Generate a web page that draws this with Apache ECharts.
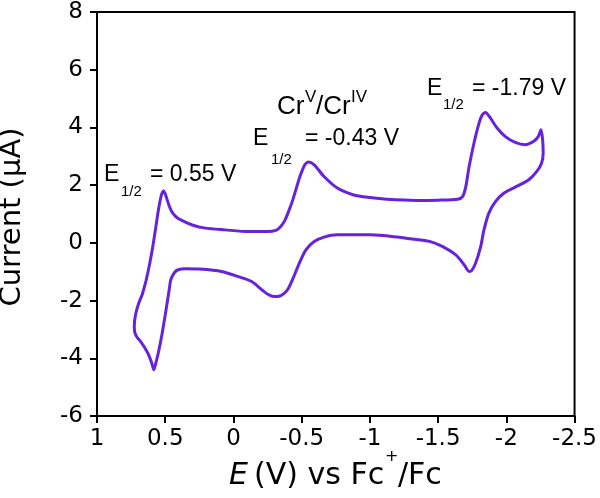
<!DOCTYPE html>
<html><head><meta charset="utf-8">
<script src="https://cdn.jsdelivr.net/npm/echarts@6/dist/echarts.min.js"></script>
<style>html,body{margin:0;padding:0;background:#fff}#c{width:600px;height:498px}</style>
</head><body><div id="c"></div>
<script>
// Cyclic voltammogram: potential (V vs Fc+/Fc) and current (µA), traced in sweep order
const potentialV = [
  0.640, 0.615, 0.592, 0.572, 0.553, 0.538, 0.525, 0.512, 0.500, 0.485,
  0.466, 0.445, 0.415, 0.375, 0.302, 0.205, 0.060, -0.109, -0.250, -0.315, -0.345, -0.375,
  -0.405, -0.435, -0.460, -0.483, -0.520, -0.548, -0.592, -0.664, -0.761, -0.882,
  -1.000, -1.123, -1.340, -1.500, -1.643, -1.679, -1.703, -1.727, -1.763, -1.800,
  -1.824, -1.848, -1.884, -1.932, -1.993, -2.065, -2.138, -2.198, -2.234, -2.254,
  -2.266, -2.270, -2.258, -2.222, -2.162, -2.065, -1.981, -1.920, -1.872, -1.836,
  -1.812, -1.775, -1.746, -1.727, -1.691, -1.630, -1.534, -1.437, -1.340, -1.000,
  -0.760, -0.664, -0.592, -0.531, -0.483, -0.435, -0.400, -0.370, -0.340, -0.302,
  -0.260, -0.225, -0.133, -0.036, 0.087, 0.250, 0.350, 0.410, 0.435, 0.459,
  0.471, 0.480, 0.500, 0.525, 0.550, 0.568, 0.583, 0.600, 0.625, 0.652,
  0.680, 0.705, 0.722, 0.727, 0.718, 0.695, 0.668, 0.640
];
const currentUA = [
  -1.30, -0.75, -0.15, 0.45, 1.05, 1.45, 1.70, 1.80, 1.70, 1.48,
  1.22, 1.03, 0.88, 0.77, 0.62, 0.51, 0.45, 0.39, 0.39, 0.44, 0.56, 0.76,
  1.10, 1.49, 1.88, 2.24, 2.68, 2.80, 2.70, 2.30, 1.90, 1.66,
  1.57, 1.51, 1.47, 1.48, 1.51, 1.60, 1.95, 2.64, 3.46, 4.15,
  4.44, 4.52, 4.32, 3.98, 3.68, 3.48, 3.40, 3.51, 3.68, 3.92,
  3.57, 3.11, 2.76, 2.47, 2.18, 1.93, 1.72, 1.43, 1.03, 0.45,
  -0.13, -0.70, -0.96, -0.99, -0.76, -0.42, -0.13, 0.05, 0.12, 0.28,
  0.28, 0.20, 0.05, -0.24, -0.70, -1.25, -1.60, -1.76, -1.84, -1.86,
  -1.80, -1.69, -1.34, -1.17, -0.99, -0.91, -0.90, -0.94, -1.05, -1.28,
  -1.63, -1.90, -2.50, -3.20, -3.80, -4.15, -4.40, -4.15, -3.85, -3.62,
  -3.42, -3.28, -3.12, -2.90, -2.50, -2.10, -1.78, -1.30
];
const xRange = { min: -2.5, max: 1, interval: 0.5 };
const yRange = { min: -6, max: 8, interval: 2 };
const halfWaveTexts = ['= 0.55 V', '= -0.43 V', '= -1.79 V'];
const coupleText = ['Cr', 'V', '/Cr', 'IV'];
const xTitleParts = ['E', '(V) vs Fc', '+', '/Fc'];
const yTitle = 'Current (µA)';

const FONT = '"Liberation Sans", Arial, Helvetica, sans-serif';
const AXFONT = '"DejaVu Sans", sans-serif';
function txt(x, y, text, size, extra) {
  const s = Object.assign({ text: text, fontSize: size, fontFamily: FONT, fill: '#000', align: 'left', verticalAlign: 'middle' }, extra || {});
  return { type: 'text', x: x, y: y, silent: true, z: 10, style: s };
}
const chart = echarts.init(document.getElementById('c'));
const axisCommon = {
  type: 'value',
  axisLine: { show: true, onZero: false, lineStyle: { color: '#000', width: 2 } },
  axisTick: { show: true, inside: false, length: 7, lineStyle: { color: '#000', width: 2 } },
  splitLine: { show: false },
  axisLabel: { color: '#000', fontSize: 23, fontFamily: AXFONT, showMinLabel: true, showMaxLabel: true }
};
chart.setOption({
  animation: false,
  backgroundColor: '#fff',
  grid: { left: 97, right: 20, top: 12, bottom: 82, show: true, borderColor: '#000', borderWidth: 2, backgroundColor: 'transparent' },
  xAxis: Object.assign({}, axisCommon, {
    inverse: true, min: xRange.min, max: xRange.max, interval: xRange.interval,
    axisLabel: Object.assign({}, axisCommon.axisLabel, { margin: 12 })
  }),
  yAxis: Object.assign({}, axisCommon, {
    min: yRange.min, max: yRange.max, interval: yRange.interval,
    axisLabel: Object.assign({}, axisCommon.axisLabel, { margin: 14 })
  }),
  series: [{
    type: 'line',
    data: potentialV.map((e, i) => [e, currentUA[i]]),
    showSymbol: false,
    smooth: 0.25,
    clip: false,
    lineStyle: { color: '#6622dd', width: 3 }
  }],
  graphic: [
    // E1/2 = 0.55 V
    txt(104, 175, 'E', 23), txt(121, 191.5, '1/2', 15), txt(150, 175, halfWaveTexts[0], 23),
    // CrV/CrIV
    txt(277, 107, coupleText[0], 26), txt(305, 97, coupleText[1], 17),
    txt(316, 107, coupleText[2], 26), txt(351, 97, coupleText[3], 17),
    // E1/2 = -0.43 V
    txt(253, 139, 'E', 23), txt(271, 160, '1/2', 15), txt(305, 139, halfWaveTexts[1], 23),
    // E1/2 = -1.79 V
    txt(427, 88.5, 'E', 23), txt(443, 105, '1/2', 15), txt(472, 88.5, halfWaveTexts[2], 23),
    // x title
    txt(229, 476, xTitleParts[0], 30, { fontStyle: 'italic', fontFamily: AXFONT }),
    txt(254, 476, xTitleParts[1], 30, { fontFamily: AXFONT }),
    txt(385, 457, xTitleParts[2], 16, { fontFamily: AXFONT }),
    txt(398, 476, xTitleParts[3], 30, { fontFamily: AXFONT }),
    // y title
    Object.assign(txt(12, 217, yTitle, 29, { align: 'center', fontFamily: AXFONT }), { rotation: Math.PI / 2 })
  ]
});
</script>
</body></html>
